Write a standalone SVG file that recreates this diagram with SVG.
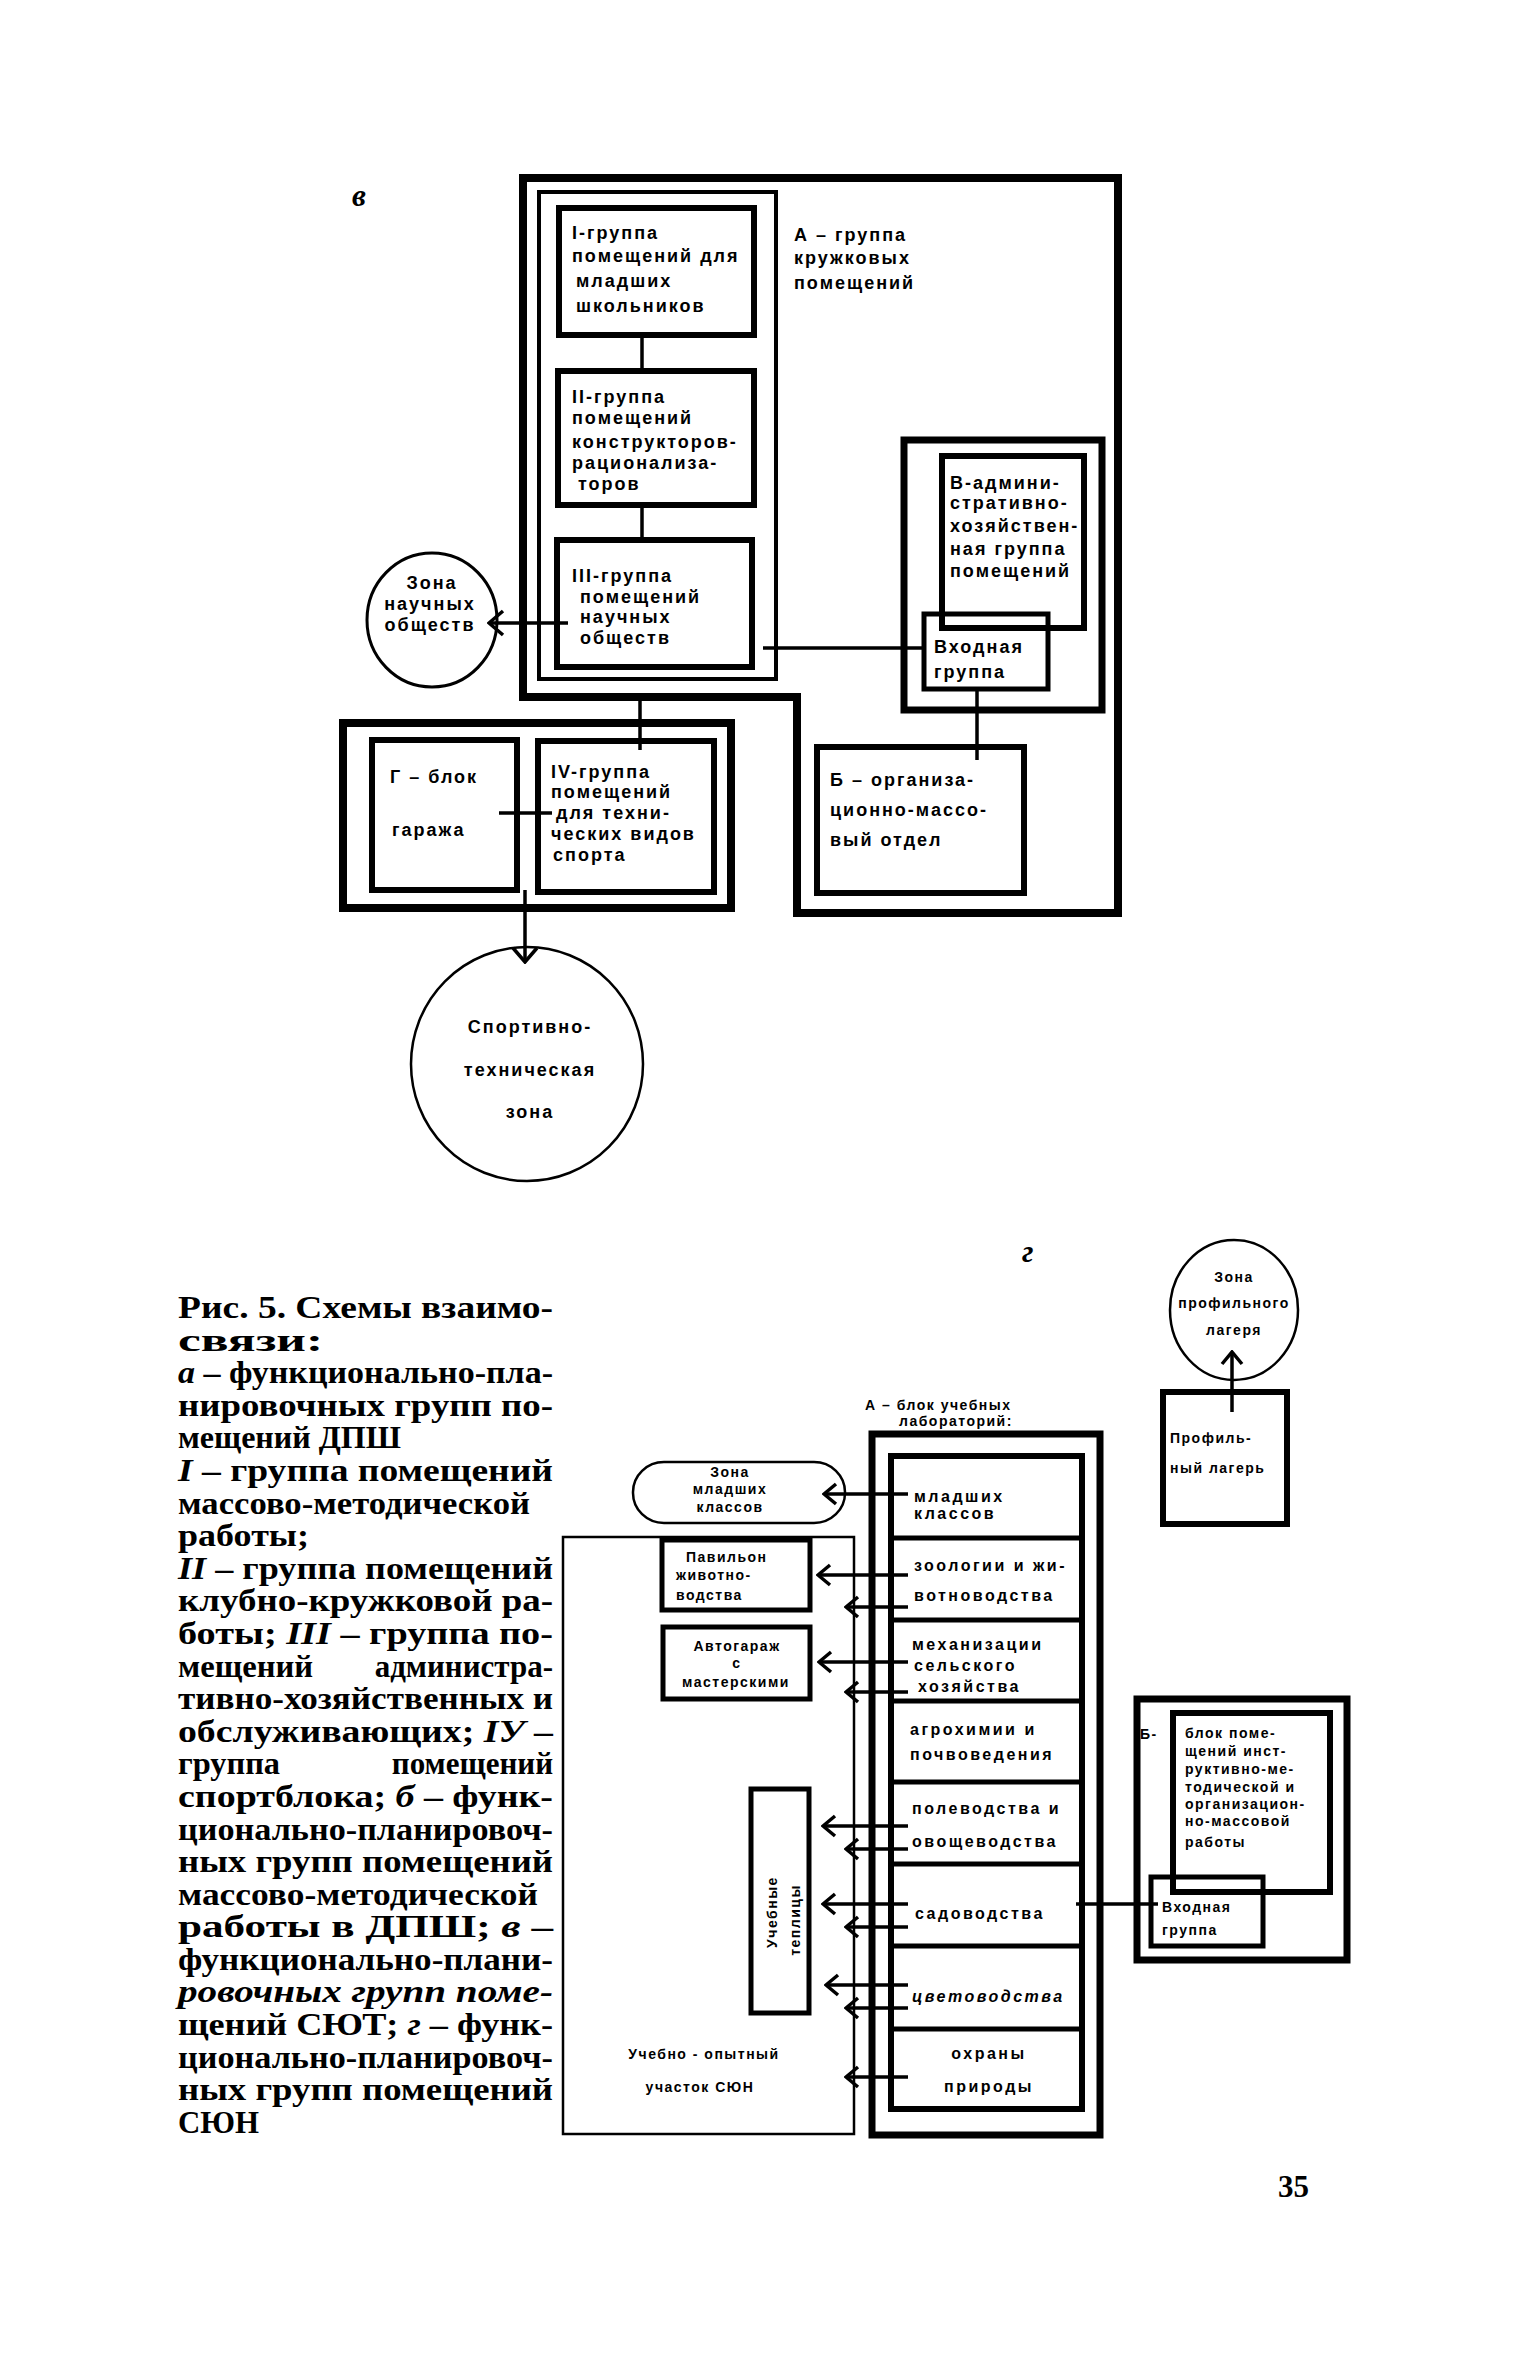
<svg xmlns="http://www.w3.org/2000/svg" width="1535" height="2363" viewBox="0 0 1535 2363">
<defs>
<style>
.f{fill:none;stroke:#000;stroke-linejoin:miter}
.ln{fill:none;stroke:#000;stroke-width:3.5}
.t{font-family:"Liberation Sans",Arial,sans-serif;font-weight:bold;font-size:18px;letter-spacing:2px;fill:#000}
.g{font-family:"Liberation Sans",Arial,sans-serif;font-weight:bold;font-size:16px;letter-spacing:2.5px;fill:#000}
.s{font-family:"Liberation Sans",Arial,sans-serif;font-weight:bold;font-size:14px;letter-spacing:1.5px;fill:#000}
.c{font-family:"Liberation Serif","Times New Roman",serif;font-weight:bold;font-size:31px;fill:#000}
.i{font-style:italic}
.m{text-anchor:middle}
</style>
<marker id="a" viewBox="-18 -14 20 28" refX="0" refY="0" markerWidth="20" markerHeight="28" markerUnits="userSpaceOnUse" orient="auto">
<path d="M-14,-12 L0,0 L-14,12" fill="none" stroke="#000" stroke-width="3.5"/>
</marker>
<marker id="b" viewBox="-16 -12 18 24" refX="0" refY="0" markerWidth="18" markerHeight="24" markerUnits="userSpaceOnUse" orient="auto">
<path d="M-12,-10 L0,0 L-12,10" fill="none" stroke="#000" stroke-width="3.5"/>
</marker>
</defs>
<rect width="1535" height="2363" fill="#fff"/>

<!-- ===== Diagram в ===== -->
<text class="c i" x="352" y="206" font-size="26">в</text>

<g id="v-outer"><path class="f" stroke-width="8" d="M523,178 H1118 V913 H797 V697 H523 Z"/></g>
<g id="v-A">
<rect class="f" stroke-width="4" x="539" y="192" width="237" height="487"/>
<text class="t" x="794" y="241">А – группа</text>
<text class="t" x="794" y="264">кружковых</text>
<text class="t" x="794" y="289">помещений</text>
</g>
<g id="v-I">
<rect class="f" stroke-width="6" x="559" y="208" width="195" height="127"/>
<text class="t" x="572" y="239">I-группа</text>
<text class="t" x="572" y="262">помещений для</text>
<text class="t" x="576" y="287">младших</text>
<text class="t" x="576" y="312">школьников</text>
</g>
<g id="v-II">
<rect class="f" stroke-width="6" x="558" y="371" width="196" height="134"/>
<text class="t" x="572" y="403">II-группа</text>
<text class="t" x="572" y="424">помещений</text>
<text class="t" x="572" y="448">конструкторов-</text>
<text class="t" x="572" y="469">рационализа-</text>
<text class="t" x="578" y="490">торов</text>
</g>
<g id="v-III">
<rect class="f" stroke-width="6" x="557" y="540" width="195" height="127"/>
<text class="t" x="572" y="582">III-группа</text>
<text class="t" x="580" y="603">помещений</text>
<text class="t" x="580" y="623">научных</text>
<text class="t" x="580" y="644">обществ</text>
</g>
<g id="v-zona-nauch">
<ellipse class="f" stroke-width="3" cx="432" cy="620" rx="65" ry="67"/>
<text class="t m" x="432" y="589">Зона</text>
<text class="t m" x="430" y="610">научных</text>
<text class="t m" x="430" y="631">обществ</text>
</g>
<g id="v-V-frame"><rect class="f" stroke-width="7" x="904" y="440" width="198" height="270"/></g>
<g id="v-V">
<rect class="f" stroke-width="6" x="942" y="456" width="142" height="172"/>
<text class="t" x="950" y="489">В-админи-</text>
<text class="t" x="950" y="509">стративно-</text>
<text class="t" x="950" y="532">хозяйствен-</text>
<text class="t" x="950" y="555">ная группа</text>
<text class="t" x="950" y="577">помещений</text>
</g>
<g id="v-vhod">
<rect class="f" stroke-width="5" x="924" y="614" width="124" height="75"/>
<text class="t" x="934" y="653">Входная</text>
<text class="t" x="934" y="678">группа</text>
</g>
<g id="v-B">
<rect class="f" stroke-width="6" x="817" y="747" width="207" height="146"/>
<text class="t" x="830" y="786">Б – организа-</text>
<text class="t" x="830" y="816">ционно-массо-</text>
<text class="t" x="830" y="846">вый  отдел</text>
</g>
<g id="v-G-frame"><rect class="f" stroke-width="8" x="343" y="723" width="388" height="185"/></g>
<g id="v-G">
<rect class="f" stroke-width="6" x="372" y="740" width="145" height="150"/>
<text class="t" x="390" y="783">Г – блок</text>
<text class="t" x="392" y="836">гаража</text>
</g>
<g id="v-IV">
<rect class="f" stroke-width="6" x="538" y="741" width="176" height="151"/>
<text class="t" x="551" y="778">IV-группа</text>
<text class="t" x="551" y="798">помещений</text>
<text class="t" x="556" y="819">для техни-</text>
<text class="t" x="551" y="840">ческих видов</text>
<text class="t" x="553" y="861">спорта</text>
</g>
<g id="v-sport">
<ellipse class="f" stroke-width="2.5" cx="527" cy="1064" rx="116" ry="117"/>
<text class="t m" x="530" y="1033">Спортивно-</text>
<text class="t m" x="530" y="1076">техническая</text>
<text class="t m" x="530" y="1118">зона</text>
</g>

<g id="v-connectors">
<line class="ln" x1="642" y1="335" x2="642" y2="371"/>
<line class="ln" x1="642" y1="505" x2="642" y2="540"/>
<line class="ln" x1="568" y1="623" x2="489" y2="623" marker-end="url(#a)"/>
<line class="ln" x1="763" y1="648" x2="924" y2="648"/>
<line class="ln" x1="977" y1="689" x2="977" y2="760"/>
<line class="ln" x1="640" y1="697" x2="640" y2="750"/>
<line class="ln" x1="499" y1="813" x2="552" y2="813"/>
<line class="ln" x1="525" y1="890" x2="525" y2="962" marker-end="url(#a)"/>
</g>

<!-- ===== Caption ===== -->
<g id="caption">
<text class="c" x="178" y="1318" textLength="375" lengthAdjust="spacingAndGlyphs">Рис. 5. Схемы взаимо-</text>
<text class="c" x="178" y="1351" textLength="145" lengthAdjust="spacingAndGlyphs">связи:</text>
<text class="c" x="178" y="1383" textLength="375" lengthAdjust="spacingAndGlyphs"><tspan class="i">а</tspan> – функционально-пла-</text>
<text class="c" x="178" y="1416" textLength="375" lengthAdjust="spacingAndGlyphs">нировочных групп по-</text>
<text class="c" x="178" y="1448" textLength="223" lengthAdjust="spacingAndGlyphs">мещений ДПШ</text>
<text class="c" x="178" y="1481" textLength="375" lengthAdjust="spacingAndGlyphs"><tspan class="i">I</tspan> – группа помещений</text>
<text class="c" x="178" y="1514" textLength="352" lengthAdjust="spacingAndGlyphs">массово-методической</text>
<text class="c" x="178" y="1546" textLength="131" lengthAdjust="spacingAndGlyphs">работы;</text>
<text class="c" x="178" y="1579" textLength="375" lengthAdjust="spacingAndGlyphs"><tspan class="i">II</tspan> – группа помещений</text>
<text class="c" x="178" y="1611" textLength="375" lengthAdjust="spacingAndGlyphs">клубно-кружковой ра-</text>
<text class="c" x="178" y="1644" textLength="375" lengthAdjust="spacingAndGlyphs">боты; <tspan class="i">III</tspan> – группа по-</text>
<text class="c" x="178" y="1677" textLength="135" lengthAdjust="spacingAndGlyphs">мещений</text>
<text class="c" x="553" y="1677" text-anchor="end">администра-</text>
<text class="c" x="178" y="1709" textLength="375" lengthAdjust="spacingAndGlyphs">тивно-хозяйственных и</text>
<text class="c" x="178" y="1742" textLength="375" lengthAdjust="spacingAndGlyphs">обслуживающих; <tspan class="i">IУ</tspan> –</text>
<text class="c" x="178" y="1774" textLength="102" lengthAdjust="spacingAndGlyphs">группа</text>
<text class="c" x="553" y="1774" text-anchor="end">помещений</text>
<text class="c" x="178" y="1807" textLength="375" lengthAdjust="spacingAndGlyphs">спортблока; <tspan class="i">б</tspan> – функ-</text>
<text class="c" x="178" y="1840" textLength="375" lengthAdjust="spacingAndGlyphs">ционально-планировоч-</text>
<text class="c" x="178" y="1872" textLength="375" lengthAdjust="spacingAndGlyphs">ных групп помещений</text>
<text class="c" x="178" y="1905" textLength="360" lengthAdjust="spacingAndGlyphs">массово-методической</text>
<text class="c" x="178" y="1937" textLength="375" lengthAdjust="spacingAndGlyphs">работы в ДПШ; <tspan class="i">в</tspan> –</text>
<text class="c" x="178" y="1970" textLength="375" lengthAdjust="spacingAndGlyphs">функционально-плани-</text>
<text class="c i" x="178" y="2002" textLength="375" lengthAdjust="spacingAndGlyphs">ровочных групп поме-</text>
<text class="c" x="178" y="2035" textLength="375" lengthAdjust="spacingAndGlyphs">щений СЮТ; <tspan class="i">г</tspan> – функ-</text>
<text class="c" x="178" y="2068" textLength="375" lengthAdjust="spacingAndGlyphs">ционально-планировоч-</text>
<text class="c" x="178" y="2100" textLength="375" lengthAdjust="spacingAndGlyphs">ных групп помещений</text>
<text class="c" x="178" y="2133" textLength="81" lengthAdjust="spacingAndGlyphs">СЮН</text>
</g>

<!-- ===== Diagram г ===== -->
<text class="c i" x="1022" y="1262" font-size="26">г</text>

<g id="g-zona-prof">
<ellipse class="f" stroke-width="2.5" cx="1234" cy="1310" rx="64" ry="70"/>
<text class="s m" x="1234" y="1282">Зона</text>
<text class="s m" x="1234" y="1308">профильного</text>
<text class="s m" x="1234" y="1335">лагеря</text>
</g>
<g id="g-prof">
<rect class="f" stroke-width="6" x="1163" y="1392" width="124" height="132"/>
<text class="s" x="1170" y="1443" font-size="15">Профиль-</text>
<text class="s" x="1170" y="1473" font-size="15">ный лагерь</text>
</g>

<g id="g-A-frame">
<text class="s" x="865" y="1410">А – блок учебных</text>
<text class="s" x="899" y="1426">лабораторий:</text>
<rect class="f" stroke-width="7" x="872" y="1434" width="228" height="701"/>
</g>
<g id="g-column">
<rect class="f" stroke-width="6" x="891" y="1456" width="191" height="653"/>
<path class="f" stroke-width="5" d="M891,1538 H1082 M891,1620 H1082 M891,1701 H1082 M891,1782 H1082 M891,1864 H1082 M891,1946 H1082 M891,2029 H1082"/>
</g>
<g id="g-c1"><text class="g" x="914" y="1502">младших</text><text class="g" x="914" y="1519">классов</text></g>
<g id="g-c2"><text class="g" x="914" y="1571">зоологии и жи-</text><text class="g" x="914" y="1601">вотноводства</text></g>
<g id="g-c3"><text class="g" x="912" y="1650">механизации</text><text class="g" x="914" y="1671">сельского</text><text class="g" x="918" y="1692">хозяйства</text></g>
<g id="g-c4"><text class="g" x="910" y="1735">агрохимии и</text><text class="g" x="910" y="1760">почвоведения</text></g>
<g id="g-c5"><text class="g" x="912" y="1814">полеводства и</text><text class="g" x="912" y="1847">овощеводства</text></g>
<g id="g-c6"><text class="g" x="915" y="1919" font-size="17">садоводства</text></g>
<g id="g-c7"><text class="g i" x="912" y="2002">цветоводства</text></g>
<g id="g-c8"><text class="g m" x="989" y="2059">охраны</text><text class="g m" x="989" y="2092">природы</text></g>

<g id="g-uchastok">
<rect class="f" stroke-width="2.5" x="563" y="1537" width="291" height="597"/>
<text class="s m" x="704" y="2059">Учебно - опытный</text>
<text class="s m" x="700" y="2092">участок СЮН</text>
</g>
<g id="g-zona-ml">
<rect class="f" stroke-width="2.5" x="633" y="1462" width="212" height="61" rx="31" ry="30"/>
<text class="s m" x="730" y="1477">Зона</text>
<text class="s m" x="730" y="1494">младших</text>
<text class="s m" x="730" y="1512">классов</text>
</g>
<g id="g-pavilion">
<rect class="f" stroke-width="5" x="662" y="1540" width="148" height="70"/>
<text class="s" x="686" y="1562" letter-spacing="3">Павильон</text>
<text class="s" x="676" y="1580" letter-spacing="3">животно-</text>
<text class="s" x="676" y="1600" letter-spacing="2">водства</text>
</g>
<g id="g-avto">
<rect class="f" stroke-width="5" x="663" y="1627" width="147" height="72"/>
<text class="s m" x="737" y="1651" letter-spacing="2">Автогараж</text>
<text class="s m" x="737" y="1668">с</text>
<text class="s m" x="736" y="1687" letter-spacing="1">мастерскими</text>
</g>
<g id="g-teplicy">
<rect class="f" stroke-width="5" x="751" y="1789" width="58" height="224"/>
<text class="s m" font-size="15" letter-spacing="8" transform="translate(777,1912) rotate(-90)">Учебные</text>
<text class="s m" font-size="15" letter-spacing="8" transform="translate(800,1920) rotate(-90)">теплицы</text>
</g>
<g id="g-B-frame"><rect class="f" stroke-width="7" x="1137" y="1699" width="210" height="261"/></g>
<g id="g-B">
<text class="s" x="1140" y="1739" font-size="16">Б-</text>
<rect class="f" stroke-width="6" x="1173" y="1713" width="157" height="179"/>
<text class="s" x="1185" y="1738" font-size="15">блок поме-</text>
<text class="s" x="1185" y="1756" font-size="15">щений инст-</text>
<text class="s" x="1185" y="1774" font-size="15">руктивно-ме-</text>
<text class="s" x="1185" y="1792" font-size="15">тодической и</text>
<text class="s" x="1185" y="1809" font-size="15">организацион-</text>
<text class="s" x="1185" y="1826" font-size="15">но-массовой</text>
<text class="s" x="1185" y="1847" font-size="15">работы</text>
</g>
<g id="g-vhod">
<rect class="f" stroke-width="5" x="1151" y="1877" width="112" height="69"/>
<text class="s" x="1162" y="1912" font-size="16">Входная</text>
<text class="s" x="1162" y="1935" font-size="16">группа</text>
</g>

<g id="g-connectors">
<line class="ln" x1="1232" y1="1412" x2="1232" y2="1352" marker-end="url(#b)"/>
<line class="ln" x1="908" y1="1494" x2="824" y2="1494" marker-end="url(#b)"/>
<line class="ln" x1="908" y1="1575" x2="818" y2="1575" marker-end="url(#b)"/>
<line class="ln" x1="908" y1="1607" x2="846" y2="1607" marker-end="url(#b)"/>
<line class="ln" x1="908" y1="1662" x2="819" y2="1662" marker-end="url(#b)"/>
<line class="ln" x1="908" y1="1692" x2="846" y2="1692" marker-end="url(#b)"/>
<line class="ln" x1="908" y1="1826" x2="823" y2="1826" marker-end="url(#b)"/>
<line class="ln" x1="908" y1="1849" x2="846" y2="1849" marker-end="url(#b)"/>
<line class="ln" x1="908" y1="1904" x2="823" y2="1904" marker-end="url(#b)"/>
<line class="ln" x1="908" y1="1927" x2="846" y2="1927" marker-end="url(#b)"/>
<line class="ln" x1="908" y1="1985" x2="826" y2="1985" marker-end="url(#b)"/>
<line class="ln" x1="908" y1="2008" x2="846" y2="2008" marker-end="url(#b)"/>
<line class="ln" x1="908" y1="2077" x2="846" y2="2077" marker-end="url(#b)"/>
<line class="ln" x1="1076" y1="1904" x2="1158" y2="1904"/>
</g>

<text class="c" x="1278" y="2197" font-size="32">35</text>
</svg>
